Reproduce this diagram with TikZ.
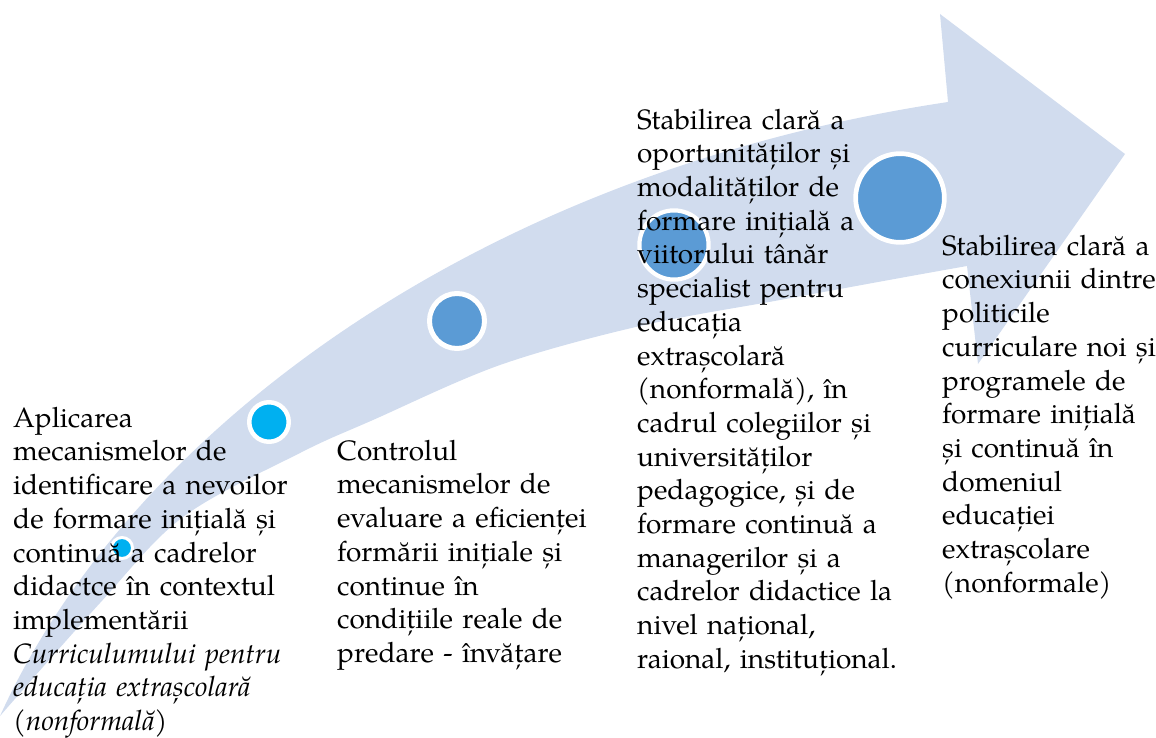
\documentclass[tikz,border=0pt]{standalone}
\usepackage{fontspec}
\setmainfont{TeX Gyre Pagella}
\definecolor{arrowfill}{RGB}{209,220,238}
\definecolor{cyanc}{RGB}{0,176,240}
\definecolor{bluec}{RGB}{91,155,213}
\tikzset{
  dot/.style={circle, draw=white, inner sep=0pt},
  label/.style={anchor=north west, inner sep=0pt, text width=320pt, align=left,
    font=\fontsize{28}{33.7}\selectfont}
}
\newcommand{\fst}{\rule{0pt}{22pt}}
\begin{document}
\begin{tikzpicture}[x=1pt,y=-1pt]
\useasboundingbox (0,0) rectangle (1156,738);
% arrow
\fill[arrowfill]
  (0,716) .. controls (130,430) and (480,172) .. (948,102)
  -- (940,14) -- (1125,154) -- (978,364) -- (967,266)
  -- plot[smooth, tension=0.55] coordinates {(967,266) (900,278) (780,300) (640,326) (500,365) (373,420) (300,453) (183,517) (100,603) (0,716)}
  -- cycle;
% circles
\node[dot, fill=cyanc, line width=3pt, minimum size=21pt] (c1) at (122,548) {};
\node[dot, fill=cyanc, line width=4.5pt, minimum size=39.5pt] (c2) at (269,422) {};
\node[dot, fill=bluec, line width=5pt, minimum size=55pt] (c3) at (457,321) {};
\node[dot, fill=bluec, line width=4.2pt, minimum size=69.2pt] (c4) at (674,245) {};
\node[dot, fill=bluec, line width=4.7pt, minimum size=88.7pt] (c5) at (900,198) {};
% texts
\node[label] (t1) at (13,405) {\fst Aplicarea\\ mecanismelor de\\ identificare a nevoilor\\ de formare inițială și\\ continuă a cadrelor\\ didactce în contextul\\ implementării\\ \textit{Curriculumului pentru}\\ \textit{educația extrașcolară}\\ \textit{(nonformală)}};
\node[label] (t2) at (337,438) {\fst Controlul\\ mecanismelor de\\ evaluare a eficienței\\ formării inițiale și\\ continue în\\ condițiile reale de\\ predare - învățare};
\node[label] (t3) at (637,107) {\fst Stabilirea clară a\\ oportunităților și\\ modalităților de\\ formare inițială a\\ viitorului tânăr\\ specialist pentru\\ educația\\ extrașcolară\\ (nonformală), în\\ cadrul colegiilor și\\ universităților\\ pedagogice, și de\\ formare continuă a\\ managerilor și a\\ cadrelor didactice la\\ nivel național,\\ raional, instituțional.};
\node[label] (t4) at (942,233) {\fst Stabilirea clară a\\ conexiunii dintre\\ politicile\\ curriculare noi și\\ programele de\\ formare inițială\\ și continuă în\\ domeniul\\ educației\\ extrașcolare\\ (nonformale)};
\end{tikzpicture}
\end{document}
